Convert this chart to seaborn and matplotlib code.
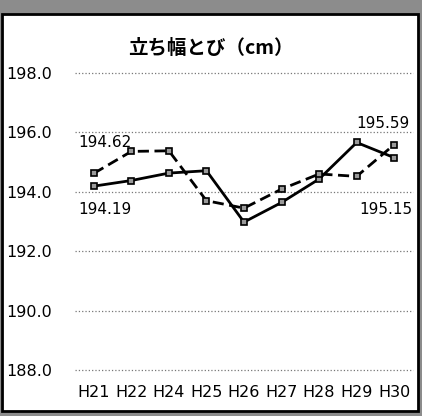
import numpy as np
import pandas as pd
import matplotlib.pyplot as plt
import matplotlib.patches as patches
import seaborn as sns

years = ['H21', 'H22', 'H24', 'H25', 'H26', 'H27', 'H28', 'H29', 'H30']
solid_vals = [194.19, 194.38, 194.63, 194.71, 192.98, 193.64, 194.43, 195.66, 195.15]
dashed_vals = [194.62, 195.36, 195.38, 193.70, 193.45, 194.09, 194.60, 194.52, 195.59]
yticks = [188.0, 190.0, 192.0, 194.0, 196.0, 198.0]

df = pd.DataFrame({'year': years * 2,
                   'value': solid_vals + dashed_vals,
                   'series': ['solid'] * 9 + ['dashed'] * 9})

sns.set_style('white')
plt.rcParams['font.family'] = ['DejaVu Sans']
plt.rcParams['text.color'] = 'black'
plt.rcParams['xtick.color'] = 'black'
plt.rcParams['ytick.color'] = 'black'

fig = plt.figure(figsize=(4.22, 4.16), dpi=100, facecolor='#8c8c8c')
# white chart panel with black frame
fig.patches.append(patches.Rectangle((2/422, 5/416), 416/422, 397/416,
                                     transform=fig.transFigure, facecolor='white',
                                     edgecolor='black', linewidth=2, zorder=-1))
ax = fig.add_axes([75/422, 46/416, 338/422, 297/416])
ax.set_zorder(2)
ax.set_facecolor('none')

sns.lineplot(data=df, x='year', y='value', style='series',
             dashes={'solid': '', 'dashed': (4, 2)}, markers={'solid': 's', 'dashed': 's'},
             color='black', linewidth=2, markersize=5, markerfacecolor='#9a9a9a',
             markeredgecolor='black', markeredgewidth=1.2, legend=False, ax=ax)

ax.set_xlim(-0.5, 8.5)
ax.set_ylim(188, 198)
ax.set_yticks(yticks)
ax.set_yticklabels([f'{v:.1f}' for v in yticks], fontsize=11.5)
ax.tick_params(axis='y', length=0, pad=16.5)
ax.tick_params(axis='x', length=0, pad=11, labelsize=11.5)
for v in yticks:
    ax.axhline(v, color='#777777', linestyle=':', linewidth=0.9, zorder=0, clip_on=False)
for s in ax.spines.values():
    s.set_visible(False)
ax.set_xlabel('')
ax.set_ylabel('')

ax.annotate(f'{dashed_vals[0]:.2f}', (0, dashed_vals[0]), xytext=(8, 22), textcoords='offset points',
            ha='center', va='center', fontsize=11)
ax.annotate(f'{solid_vals[0]:.2f}', (0, solid_vals[0]), xytext=(8, -17), textcoords='offset points',
            ha='center', va='center', fontsize=11)
ax.annotate(f'{dashed_vals[-1]:.2f}', (8, dashed_vals[-1]), xytext=(-8, 15), textcoords='offset points',
            ha='center', va='center', fontsize=11)
ax.annotate(f'{solid_vals[-1]:.2f}', (8, solid_vals[-1]), xytext=(-6, -37), textcoords='offset points',
            ha='center', va='center', fontsize=11)

fig.text(211/422, 1 - 48/416, '立ち幅とび（cm）', ha='center', va='center', fontsize=14,
         fontweight='bold', color='black', family=['Noto Sans CJK JP', 'DejaVu Sans'])

fig.savefig('out.png', dpi=100, facecolor=fig.get_facecolor())
